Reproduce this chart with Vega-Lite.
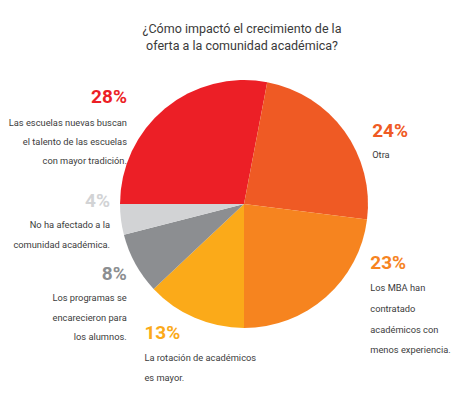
{
  "$schema": "https://vega.github.io/schema/vega-lite/v6.json",
  "autosize": {"type": "none"},
  "width": 418,
  "height": 304,
  "padding": {"left": 35, "top": 52, "right": 0, "bottom": 43},
  "background": "white",
  "view": {"stroke": null},
  "title": {
    "text": ["¿Cómo impactó el crecimiento de la", "oferta a la comunidad académica?"],
    "font": "Roboto, sans-serif",
    "fontSize": 12.5,
    "fontWeight": "normal",
    "color": "#3a3a3a",
    "anchor": "middle",
    "dx": -2,
    "lineHeight": 17,
    "offset": -4
  },
  "data": {
    "values": [
      {"key": "tradicion", "value": 28, "order": 1, "pct": "28%", "lines": ["Las escuelas nuevas buscan", "el talento de las escuelas", "con mayor tradición."]},
      {"key": "otra", "value": 24, "order": 2, "pct": "24%", "lines": ["Otra"]},
      {"key": "mba", "value": 23, "order": 3, "pct": "23%", "lines": ["Los MBA han", "contratado", "académicos con", "menos experiencia."]},
      {"key": "rotacion", "value": 13, "order": 4, "pct": "13%", "lines": ["La rotación de académicos", "es mayor."]},
      {"key": "programas", "value": 8, "order": 5, "pct": "8%", "lines": ["Los programas se", "encarecieron para", "los alumnos."]},
      {"key": "no_afectado", "value": 4, "order": 6, "pct": "4%", "lines": ["No ha afectado a la", "comunidad académica."]}
    ]
  },
  "encoding": {
    "theta": {"field": "value", "type": "quantitative", "stack": true, "scale": {"range": [4.71239, 10.99557]}},
    "order": {"field": "order", "type": "quantitative"},
    "detail": {"field": "key", "type": "nominal"},
    "color": {
      "field": "key", "type": "nominal", "legend": null,
      "scale": {
        "domain": ["tradicion", "otra", "mba", "rotacion", "programas", "no_afectado"],
        "range": ["#EC1F26", "#EF5A24", "#F6841F", "#FBAA19", "#8C8E91", "#D2D3D5"]
      }
    }
  },
  "layer": [
    {"mark": {"type": "arc", "outerRadius": 124}},
    {"mark": {"type": "text", "radius": 135, "align": "right", "baseline": "middle", "dx": -31, "dy": -3, "font": "Roboto, sans-serif", "fontSize": 19, "fontWeight": "bold"},
     "encoding": {"text": {"condition": {"test": "datum.key == 'tradicion'", "field": "pct"}, "value": ""}}},
    {"mark": {"type": "text", "radius": 135, "align": "right", "baseline": "top", "dx": -31, "dy": 19, "lineHeight": 19, "font": "Roboto, sans-serif", "fontSize": 9.3},
     "encoding": {"color": {"value": "#3c3c3c"}, "text": {"condition": {"test": "datum.key == 'tradicion'", "field": "lines"}, "value": ""}}},
    {"mark": {"type": "text", "radius": 135, "align": "left", "baseline": "middle", "dx": 19, "dy": 6, "font": "Roboto, sans-serif", "fontSize": 19, "fontWeight": "bold"},
     "encoding": {"text": {"condition": {"test": "datum.key == 'otra'", "field": "pct"}, "value": ""}}},
    {"mark": {"type": "text", "radius": 135, "align": "left", "baseline": "top", "dx": 19, "dy": 26, "lineHeight": 19, "font": "Roboto, sans-serif", "fontSize": 9.3},
     "encoding": {"color": {"value": "#3c3c3c"}, "text": {"condition": {"test": "datum.key == 'otra'", "field": "lines"}, "value": ""}}},
    {"mark": {"type": "text", "radius": 135, "align": "left", "baseline": "middle", "dx": 37, "dy": -42, "font": "Roboto, sans-serif", "fontSize": 19, "fontWeight": "bold"},
     "encoding": {"text": {"condition": {"test": "datum.key == 'mba'", "field": "pct"}, "value": ""}}},
    {"mark": {"type": "text", "radius": 135, "align": "left", "baseline": "top", "dx": 37, "dy": -21, "lineHeight": 20.7, "font": "Roboto, sans-serif", "fontSize": 9.3},
     "encoding": {"color": {"value": "#3c3c3c"}, "text": {"condition": {"test": "datum.key == 'mba'", "field": "lines"}, "value": ""}}},
    {"mark": {"type": "text", "radius": 135, "align": "left", "baseline": "middle", "dx": -46, "dy": 5, "font": "Roboto, sans-serif", "fontSize": 19, "fontWeight": "bold"},
     "encoding": {"text": {"condition": {"test": "datum.key == 'rotacion'", "field": "pct"}, "value": ""}}},
    {"mark": {"type": "text", "radius": 135, "align": "left", "baseline": "top", "dx": -46, "dy": 26, "lineHeight": 20, "font": "Roboto, sans-serif", "fontSize": 9.3},
     "encoding": {"color": {"value": "#3c3c3c"}, "text": {"condition": {"test": "datum.key == 'rotacion'", "field": "lines"}, "value": ""}}},
    {"mark": {"type": "text", "radius": 135, "align": "right", "baseline": "middle", "dx": 1, "dy": 5, "font": "Roboto, sans-serif", "fontSize": 19, "fontWeight": "bold"},
     "encoding": {"text": {"condition": {"test": "datum.key == 'programas'", "field": "pct"}, "value": ""}}},
    {"mark": {"type": "text", "radius": 135, "align": "right", "baseline": "top", "dx": 1, "dy": 25, "lineHeight": 19.5, "font": "Roboto, sans-serif", "fontSize": 9.3},
     "encoding": {"color": {"value": "#3c3c3c"}, "text": {"condition": {"test": "datum.key == 'programas'", "field": "lines"}, "value": ""}}},
    {"mark": {"type": "text", "radius": 135, "align": "right", "baseline": "middle", "dx": 0, "dy": -20, "font": "Roboto, sans-serif", "fontSize": 19, "fontWeight": "bold"},
     "encoding": {"text": {"condition": {"test": "datum.key == 'no_afectado'", "field": "pct"}, "value": ""}}},
    {"mark": {"type": "text", "radius": 135, "align": "right", "baseline": "top", "dx": 0, "dy": 0, "lineHeight": 20, "font": "Roboto, sans-serif", "fontSize": 9.3},
     "encoding": {"color": {"value": "#3c3c3c"}, "text": {"condition": {"test": "datum.key == 'no_afectado'", "field": "lines"}, "value": ""}}}
  ]
}
